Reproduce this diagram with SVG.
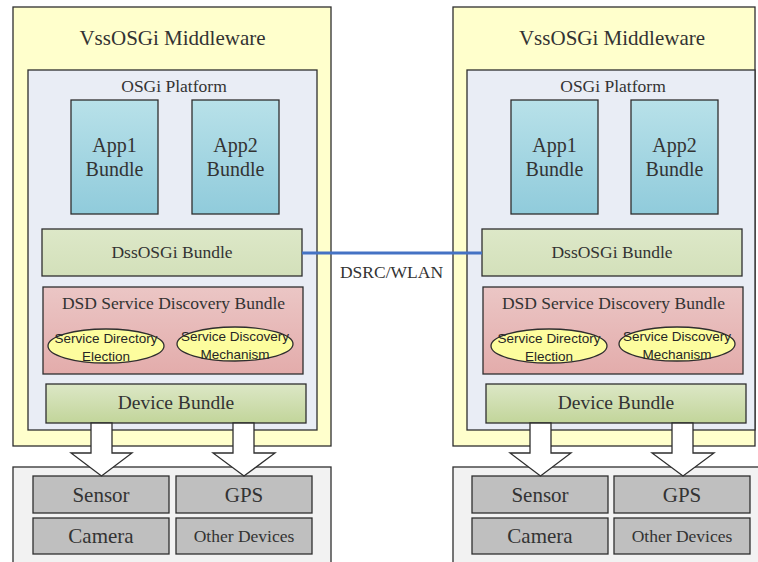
<svg xmlns="http://www.w3.org/2000/svg" width="758" height="562" viewBox="0 0 758 562">
<defs>
<linearGradient id="gApp" x1="0" y1="0" x2="0" y2="1"><stop offset="0" stop-color="#b8e1e9"/><stop offset="1" stop-color="#90cbdb"/></linearGradient>
<linearGradient id="gDss" x1="0" y1="0" x2="0" y2="1"><stop offset="0" stop-color="#dde8c8"/><stop offset="1" stop-color="#d3e0ba"/></linearGradient>
<linearGradient id="gDsd" x1="0" y1="0" x2="0" y2="1"><stop offset="0" stop-color="#ebc6c5"/><stop offset="1" stop-color="#e3acab"/></linearGradient>
<linearGradient id="gDev" x1="0" y1="0" x2="0" y2="1"><stop offset="0" stop-color="#dce7c6"/><stop offset="1" stop-color="#c2d59a"/></linearGradient>
<style>
.b{stroke:#2e2e2e;stroke-width:1.3}
.yel{fill:#ffffcc}
.plat{fill:#e9edf5}
.app{fill:url(#gApp)}
.dss{fill:url(#gDss)}
.dsd{fill:url(#gDsd)}
.dev{fill:url(#gDev)}
.ell{fill:#fdfd9e}
.grey{fill:#f2f2f2}
.dv{fill:#bfbfbf}
.t{font-family:"Liberation Serif","Times New Roman",serif;fill:#333;text-anchor:middle}
.s{font-family:"Liberation Sans",Arial,sans-serif;font-size:13.5px;fill:#262626;text-anchor:middle}
.arr{fill:#fff;stroke:#2e2e2e;stroke-width:1.3}
</style>
</defs>
<rect width="758" height="562" fill="#fff"/>

<!-- Left panel -->
<g id="left-middleware">
<rect class="b yel" x="13" y="7" width="318" height="439"/>
<text class="t" x="172.5" y="45" font-size="21">VssOSGi Middleware</text>
</g>
<g id="left-platform">
<rect class="b plat" x="28" y="70" width="289" height="360"/>
<text class="t" x="174" y="92" font-size="17.5">OSGi Platform</text>
</g>
<g id="left-app1">
<rect class="b app" x="71" y="100" width="87" height="114"/>
<text class="t" x="114.5" y="152" font-size="20">App1</text>
<text class="t" x="114.5" y="176" font-size="20">Bundle</text>
</g>
<g id="left-app2">
<rect class="b app" x="192" y="100" width="87" height="114"/>
<text class="t" x="235.5" y="152" font-size="20">App2</text>
<text class="t" x="235.5" y="176" font-size="20">Bundle</text>
</g>
<g id="left-dss">
<rect class="b dss" x="42" y="229" width="260" height="47"/>
<text class="t" x="172" y="258" font-size="17.5">DssOSGi Bundle</text>
</g>
<g id="left-dsd">
<rect class="b dsd" x="43" y="287" width="260" height="87"/>
<text class="t" x="173.5" y="309" font-size="17.5" fill="#404040">DSD Service Discovery Bundle</text>
<ellipse class="b ell" cx="106" cy="346" rx="58" ry="17"/>
<text class="s" x="106" y="343">Service Directory</text>
<text class="s" x="106" y="361">Election</text>
<ellipse class="b ell" cx="235" cy="344" rx="58" ry="17"/>
<text class="s" x="235" y="341">Service Discovery</text>
<text class="s" x="235" y="359">Mechanism</text>
</g>
<g id="left-device">
<rect class="b dev" x="46" y="384" width="260" height="39"/>
<text class="t" x="176" y="409" font-size="19.5">Device Bundle</text>
</g>
<g id="left-devices">
<rect class="b grey" x="13" y="467" width="318" height="100"/>
<rect class="b dv" x="33" y="476" width="136" height="37"/>
<text class="t" x="101" y="502" font-size="21">Sensor</text>
<rect class="b dv" x="176" y="476" width="136" height="37"/>
<text class="t" x="244" y="502" font-size="21">GPS</text>
<rect class="b dv" x="33" y="518" width="136" height="36"/>
<text class="t" x="101" y="543" font-size="21">Camera</text>
<rect class="b dv" x="176" y="518" width="136" height="36"/>
<text class="t" x="244" y="542" font-size="17.5">Other Devices</text>
</g>

<!-- Right panel -->
<g id="right-middleware">
<rect class="b yel" x="453" y="7" width="302" height="439"/>
<text class="t" x="612" y="45" font-size="21">VssOSGi Middleware</text>
</g>
<g id="right-platform">
<rect class="b plat" x="467" y="70" width="288" height="360"/>
<text class="t" x="613" y="92" font-size="17.5">OSGi Platform</text>
</g>
<g id="right-app1">
<rect class="b app" x="511" y="100" width="87" height="114"/>
<text class="t" x="554.5" y="152" font-size="20">App1</text>
<text class="t" x="554.5" y="176" font-size="20">Bundle</text>
</g>
<g id="right-app2">
<rect class="b app" x="631" y="100" width="87" height="114"/>
<text class="t" x="674.5" y="152" font-size="20">App2</text>
<text class="t" x="674.5" y="176" font-size="20">Bundle</text>
</g>
<g id="right-dss">
<rect class="b dss" x="482" y="229" width="260" height="47"/>
<text class="t" x="612" y="258" font-size="17.5">DssOSGi Bundle</text>
</g>
<g id="right-dsd">
<rect class="b dsd" x="483" y="287" width="260" height="87"/>
<text class="t" x="613.5" y="309" font-size="17.5" fill="#404040">DSD Service Discovery Bundle</text>
<ellipse class="b ell" cx="549" cy="346" rx="58" ry="17"/>
<text class="s" x="549" y="343">Service Directory</text>
<text class="s" x="549" y="361">Election</text>
<ellipse class="b ell" cx="677" cy="344" rx="58" ry="17"/>
<text class="s" x="677" y="341">Service Discovery</text>
<text class="s" x="677" y="359">Mechanism</text>
</g>
<g id="right-device">
<rect class="b dev" x="486" y="384" width="260" height="39"/>
<text class="t" x="616" y="409" font-size="19.5">Device Bundle</text>
</g>
<g id="right-devices">
<rect class="b grey" x="453" y="467" width="320" height="100"/>
<rect class="b dv" x="472" y="476" width="136" height="37"/>
<text class="t" x="540" y="502" font-size="21">Sensor</text>
<rect class="b dv" x="614" y="476" width="136" height="37"/>
<text class="t" x="682" y="502" font-size="21">GPS</text>
<rect class="b dv" x="472" y="518" width="136" height="36"/>
<text class="t" x="540" y="543" font-size="21">Camera</text>
<rect class="b dv" x="614" y="518" width="136" height="36"/>
<text class="t" x="682" y="542" font-size="17.5">Other Devices</text>
</g>

<!-- Connectors -->
<g id="connectors">
<line x1="302" y1="253" x2="482" y2="253" stroke="#4472c4" stroke-width="3.2"/>
<text class="t" x="391.5" y="278" font-size="17.5" fill="#404040">DSRC/WLAN</text>
<polygon class="arr" points="91,423 112,423 112,453 132,453 101.5,476 71,453 91,453"/>
<polygon class="arr" points="233,423 254,423 254,453 275,453 244,476 213,453 233,453"/>
<polygon class="arr" points="530,423 551,423 551,453 571,453 540.5,476 510,453 530,453"/>
<polygon class="arr" points="672,423 693,423 693,453 714,453 683,476 652,453 672,453"/>
</g>
</svg>
